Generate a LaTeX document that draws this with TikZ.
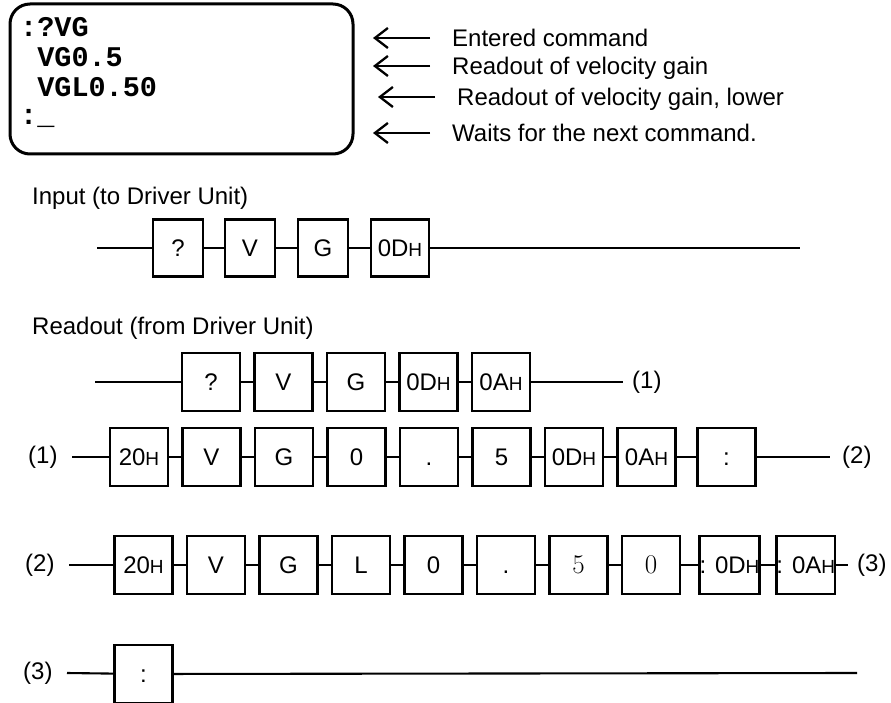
\documentclass[tikz,border=0pt]{standalone}
\usepackage{fontspec}
\newfontfamily\arial{Liberation Sans}
\newfontfamily\crtmono{Liberation Mono}
\usetikzlibrary{arrows.meta,positioning}

\newcommand{\arialtxt}{\arial\fontsize{24pt}{28pt}\selectfont}
\newcommand{\hsuf}{{\fontsize{19pt}{19pt}\selectfont H}}
\newcommand{\serifdigit}[1]{{\rmfamily\fontsize{27pt}{27pt}\selectfont #1}}

\begin{document}
\begin{tikzpicture}[x=1pt, y=-1pt,
  cell/.style={draw, line width=2.1pt, minimum width=58pt, minimum height=58pt,
    inner sep=0pt, outer sep=0pt, text height=17pt, text depth=0pt,
    font=\arialtxt},
  slim/.style={cell, minimum width=50pt, minimum height=57pt},
  wire/.style={line width=2.1pt},
  caption/.style={anchor=base west, inner sep=0pt, font=\arialtxt},
  tag/.style={anchor=west, inner sep=0pt, font=\arialtxt},
  screen/.style={draw, line width=3pt, rounded corners=20pt,
    minimum width=343pt, minimum height=150pt},
  crt/.style={anchor=base west, inner sep=0pt,
    font=\crtmono\bfseries\fontsize{28.5pt}{30pt}\selectfont},
  pointer/.style={line width=2.3pt, -{Straight Barb[length=13pt, width=20pt]}}
]
  \useasboundingbox (0,0) rectangle (891,703);

  % terminal screen
  \node[screen] (scr) at (181.5,79) {};
  \node[crt] (s1) at (20,37) {:?VG};
  \node[crt] (s2) at (20,67) {\phantom{0}VG0.5};
  \node[crt] (s3) at (20,97) {\phantom{0}VGL0.50};
  \node[crt] (s4) at (20,125) {:\_};

  \node[caption] (t1) at (452,47) {Entered command};
  \node[caption] (t2) at (452,75) {Readout of velocity gain};
  \node[caption] (t3) at (457,106) {Readout of velocity gain, lower};
  \node[caption] (t4) at (452,142) {Waits for the next command.};
  \foreach \t in {t1,t2,t3,t4}
    \draw[pointer] ([shift={(-22pt,9pt)}]\t.base west) -- ++(-57pt,0);

  % input
  \node[caption] (inp) at (32,205) {Input (to Driver Unit)};
  \coordinate (i0) at (97,248);
  \node[slim] (i1) at (178,248) {?};
  \node[slim, right=22pt of i1] (i2) {V};
  \node[slim, right=23pt of i2] (i3) {G};
  \node[cell, minimum height=57pt, right=23pt of i3] (i4) {0D\hsuf};
  \coordinate (i5) at (800,248);
  \draw[wire] (i0) -- (i1) (i1) -- (i2) (i2) -- (i3) (i3) -- (i4) (i4) -- (i5);

  % readout
  \node[caption] (out) at (32,334) {Readout (from Driver Unit)};

  \coordinate (a0) at (95,382);
  \node[cell] (a1) at (211,382) {?};
  \node[cell, right=14.5pt of a1] (a2) {V};
  \node[cell, right=14.5pt of a2] (a3) {G};
  \node[cell, right=14.5pt of a3] (a4) {0D\hsuf};
  \node[cell, right=14.5pt of a4] (a5) {0A\hsuf};
  \coordinate (a6) at (623,382);
  \node[tag] (ta) at (632,382) {(1)};
  \draw[wire] (a0) -- (a1) (a1) -- (a2) (a2) -- (a3) (a3) -- (a4) (a4) -- (a5)
    (a5) -- (a6);

  \node[tag] (lb) at (28,457) {(1)};
  \coordinate (b0) at (72,457);
  \node[cell] (b1) at (139,457) {20\hsuf};
  \node[cell, right=14.5pt of b1] (b2) {V};
  \node[cell, right=14.5pt of b2] (b3) {G};
  \node[cell, right=14.5pt of b3] (b4) {0};
  \node[cell, right=14.5pt of b4] (b5) {.};
  \node[cell, right=14.5pt of b5] (b6) {5};
  \node[cell, right=14.5pt of b6] (b7) {0D\hsuf};
  \node[cell, right=14.5pt of b7] (b8) {0A\hsuf};
  \node[cell, right=22pt of b8] (b9) {:};
  \coordinate (b10) at (830,457);
  \node[tag] (tb) at (842,457) {(2)};
  \draw[wire] (b0) -- (b1) (b1) -- (b2) (b2) -- (b3) (b3) -- (b4) (b4) -- (b5)
    (b5) -- (b6) (b6) -- (b7) (b7) -- (b8) (b8) -- (b9) (b9) -- (b10);

  \node[tag] (lc) at (25,565) {(2)};
  \coordinate (c0) at (69,565);
  \node[cell] (c1) at (143.5,565) {20\hsuf};
  \node[cell, right=14.5pt of c1] (c2) {V};
  \node[cell, right=14.5pt of c2] (c3) {G};
  \node[cell, right=14.5pt of c3] (c4) {L};
  \node[cell, right=14.5pt of c4] (c5) {0};
  \node[cell, right=14.5pt of c5] (c6) {.};
  \node[cell, right=14.5pt of c6] (c7) {\serifdigit{5}};
  \node[cell, right=14.5pt of c7] (c8) {\serifdigit{0}};
  \node[cell, right=19.5pt of c8] (c9) {: 0D\hsuf};
  \node[cell, right=17pt of c9] (c10) {: 0A\hsuf};
  \coordinate (c11) at (848,565);
  \node[tag] (tc) at (857,565) {(3)};
  \draw[wire] (c0) -- (c1) (c1) -- (c2) (c2) -- (c3) (c3) -- (c4) (c4) -- (c5)
    (c5) -- (c6) (c6) -- (c7) (c7) -- (c8) (c8) -- (c9) (c9) -- (c10)
    (c10) -- (c11);

  \node[tag] (ld) at (23,673) {(3)};
  \coordinate (d0) at (67,673);
  \node[cell] (d1) at (143.5,674) {:};
  \coordinate (d2) at (857,673);
  \draw[wire] (d0) -- (d1) (d1) -- (d2);
\end{tikzpicture}
\end{document}
